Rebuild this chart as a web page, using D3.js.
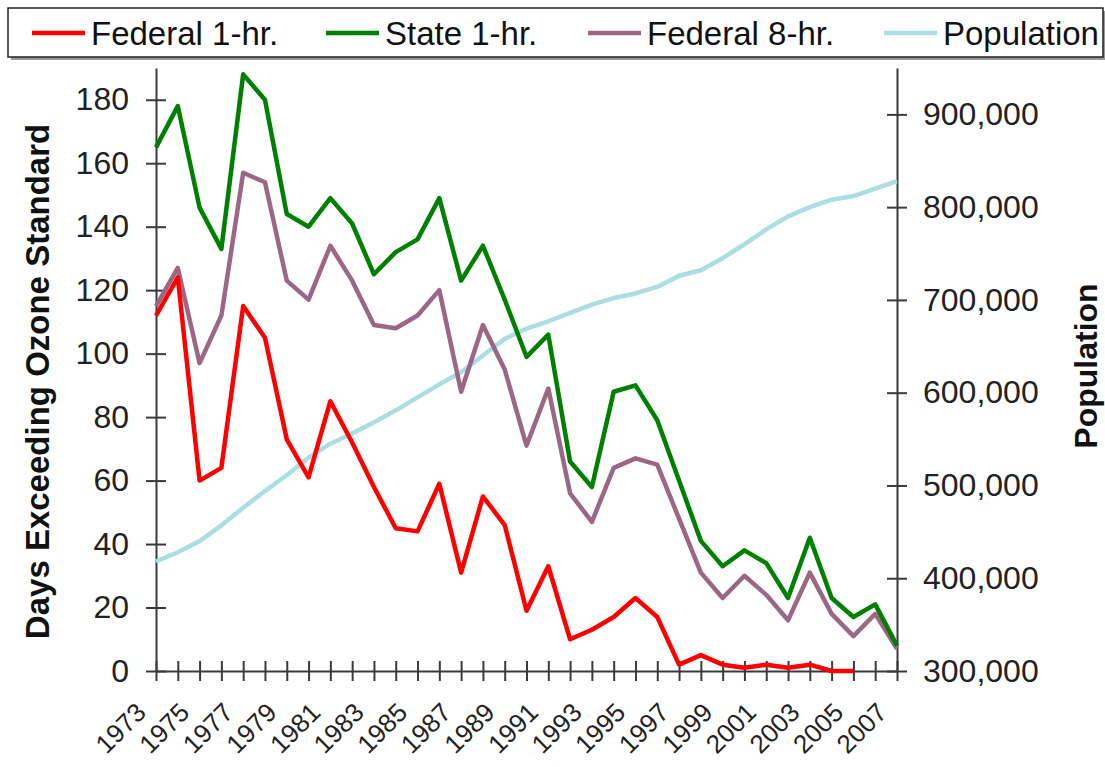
<!DOCTYPE html>
<html>
<head>
<meta charset="utf-8">
<script src="https://cdn.jsdelivr.net/npm/d3@7"></script>
<style>
  body { margin: 0; background: #fff; }
  svg { display: block; font-family: "Liberation Sans", Arial, sans-serif; }
</style>
</head>
<body>
<div id="chart"></div>
<script>
// ozone exceedance days vs population

const years = d3.range(1973, 2008);

const federal1hr = [112, 124, 60, 64, 115, 105, 73, 61, 85, 72, 58, 45, 44, 59, 31, 55, 46,
    19, 33, 10, 13, 17, 23, 17, 2, 5, 2, 1, 2, 1, 2, 0, 0];

const state1hr = [165, 178, 146, 133, 188, 180, 144, 140, 149, 141, 125, 132, 136, 149, 123,
    134, 117, 99, 106, 66, 58, 88, 90, 79, 60, 41, 33, 38, 34, 23, 42, 23, 17, 21, 8];

const federal8hr = [115, 127, 97, 112, 157, 154, 123, 117, 134, 123, 109, 108, 112, 120, 88,
    109, 95, 71, 89, 56, 47, 64, 67, 65, 48, 31, 23, 30, 24, 16, 31, 18, 11, 18, 7];

const population = [418000, 428000, 440000, 457000, 476000, 494000, 511000, 530000, 545000,
    556000, 568000, 581000, 595000, 609000, 622000, 640000, 658000, 669000, 677000, 686000,
    695000, 702000, 707000, 714000, 726000, 732000, 745000, 760000, 776000, 790000, 800000,
    808000, 812000, 820000, 828000];

const leftTicks = [0, 20, 40, 60, 80, 100, 120, 140, 160, 180];
const rightTicks = [300000, 400000, 500000, 600000, 700000, 800000, 900000];

const width = 1105, height = 767;
const plot = { left: 156, right: 897, top: 68, bottom: 671 };

const svg = d3.select("#chart").append("svg")
    .attr("width", width)
    .attr("height", height);

const x = d3.scalePoint()
    .domain(years)
    .range([plot.left, plot.right]);

const yLeft = d3.scaleLinear()
    .domain([0, 190])
    .range([plot.bottom, plot.top]);

const yRight = d3.scaleLinear()
    .domain([300000, 950000])
    .range([plot.bottom, plot.top]);

const axisColor = "#3a3a3a";

function styleAxis(g, crossLen, vertical) {
    g.select(".domain").attr("stroke", axisColor).attr("stroke-width", 2);
    g.selectAll(".tick line")
        .attr("stroke", axisColor)
        .attr("stroke-width", 2);
    if (vertical) {
        g.selectAll(".tick line").attr("x1", -crossLen).attr("x2", crossLen);
    } else {
        g.selectAll(".tick line").attr("y1", -crossLen).attr("y2", crossLen);
    }
    g.selectAll(".tick text").attr("fill", "#222");
}

// left axis
svg.append("g")
    .attr("transform", `translate(${plot.left},0)`)
    .call(d3.axisLeft(yLeft).tickValues(leftTicks).tickSizeOuter(0).tickPadding(21))
    .call(g => styleAxis(g, 10, true))
    .call(g => g.selectAll(".tick text").style("font-size", "32px"));

// right axis
svg.append("g")
    .attr("transform", `translate(${plot.right},0)`)
    .call(d3.axisRight(yRight).tickValues(rightTicks).tickFormat(d3.format(",")).tickSizeOuter(0).tickPadding(20))
    .call(g => styleAxis(g, 10, true))
    .call(g => g.selectAll(".tick text").style("font-size", "32px"));

// bottom axis
const xAxis = svg.append("g")
    .attr("transform", `translate(0,${plot.bottom})`)
    .call(d3.axisBottom(x).tickSizeOuter(0)
        .tickFormat(d => (d - 1973) % 2 === 0 ? d : ""))
    .call(g => styleAxis(g, 10, false));

xAxis.selectAll(".tick text")
    .style("font-size", "26px")
    .attr("text-anchor", "end")
    .attr("transform", "translate(-9,43) rotate(-45)")
    .attr("y", 0)
    .attr("dy", 0);

// series lines
const line = d3.line()
    .x(d => x(d.year))
    .y(d => d.scale(d.value));

function series(values, scale) {
    return values.map((v, i) => ({ year: years[i], value: v, scale: scale }));
}

const seriesList = [
    { name: "Population", color: "#acdde3", data: series(population, yRight) },
    { name: "Federal 8-hr.", color: "#9c6785", data: series(federal8hr, yLeft) },
    { name: "State 1-hr.", color: "#008000", data: series(state1hr, yLeft) },
    { name: "Federal 1-hr.", color: "#ff0000", data: series(federal1hr, yLeft) }
];

svg.append("g")
    .selectAll("path")
    .data(seriesList)
    .enter()
    .append("path")
    .attr("fill", "none")
    .attr("stroke", d => d.color)
    .attr("stroke-width", 4.5)
    .attr("stroke-linejoin", "round")
    .attr("d", d => line(d.data));

// axis titles
svg.append("text")
    .attr("transform", `translate(49,${(plot.top + plot.bottom) / 2 + 12}) rotate(-90)`)
    .attr("text-anchor", "middle")
    .style("font-size", "33px")
    .style("font-weight", "bold")
    .attr("fill", "#111")
    .text("Days Exceeding Ozone Standard");

svg.append("text")
    .attr("transform", `translate(1097,366) rotate(-90)`)
    .attr("text-anchor", "middle")
    .style("font-size", "32px")
    .style("font-weight", "bold")
    .attr("fill", "#111")
    .text("Population");

// legend
const legend = svg.append("g");
legend.append("rect")
    .attr("x", 11).attr("y", 11)
    .attr("width", 1095).attr("height", 49)
    .attr("fill", "#9a9a9a");
legend.append("rect")
    .attr("x", 8).attr("y", 8)
    .attr("width", 1095).attr("height", 49)
    .attr("fill", "#fff")
    .attr("stroke", "#222")
    .attr("stroke-width", 1.5);

const legendItems = [
    { name: "Federal 1-hr.", color: "#ff0000", x: 32 },
    { name: "State 1-hr.", color: "#008000", x: 326 },
    { name: "Federal 8-hr.", color: "#9c6785", x: 588 },
    { name: "Population", color: "#acdde3", x: 884 }
];

const item = legend.selectAll(".item")
    .data(legendItems)
    .enter()
    .append("g")
    .attr("transform", d => `translate(${d.x},33)`);

item.append("line")
    .attr("x1", 0).attr("x2", 53)
    .attr("stroke", d => d.color)
    .attr("stroke-width", 4.5);

item.append("text")
    .attr("x", 59)
    .attr("y", 12)
    .style("font-size", "33px")
    .attr("fill", "#111")
    .text(d => d.name);
</script>
</body>
</html>
